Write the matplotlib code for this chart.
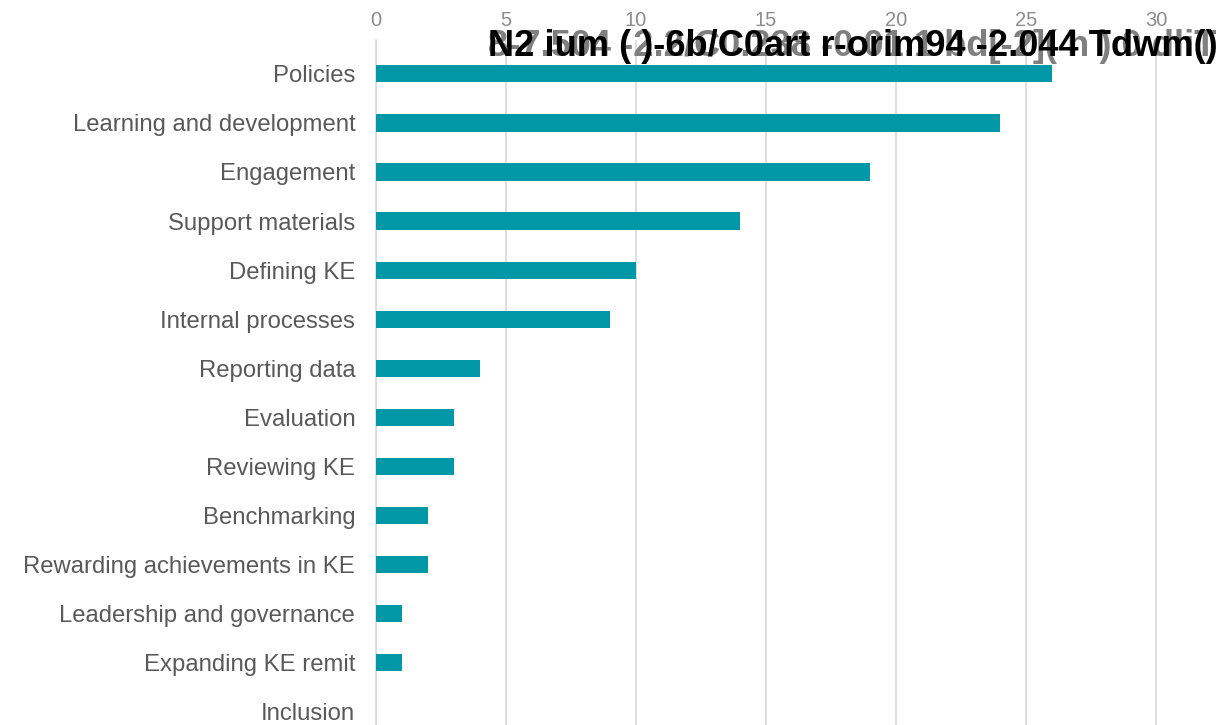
import matplotlib.pyplot as plt

plt.rcParams['font.family'] = ['Liberation Sans', 'DejaVu Sans']

categories = ['Policies', 'Learning and development', 'Engagement', 'Support materials',
              'Defining KE', 'Internal processes', 'Reporting data', 'Evaluation',
              'Reviewing KE', 'Benchmarking', 'Rewarding achievements in KE',
              'Leadership and governance', 'Expanding KE remit', 'Inclusion']
counts = [26, 24, 19, 14, 10, 9, 4, 3, 3, 2, 2, 1, 1, 0]
xticks = [0, 5, 10, 15, 20, 25, 30]

title_text = 'N2 ium ( )-6b/C0art r-orim94 -2.044 Tdwm()'
title_ghost = '8-7.504 -2.2/C0.238 -0.01.1 bd[-2]( h ) 0 dliT'

bar_color = '#0097a7'
text_color = '#595959'
grid_color = '#d9d9d9'

fig = plt.figure(figsize=(12.3, 7.25), dpi=100)
ax = fig.add_axes([376 / 1230, 0.0, 1 - 376 / 1230, (725 - 40) / 725])

ypos = list(range(len(categories)))
ax.barh(ypos, counts, height=0.35, color=bar_color, zorder=3)

ax.set_ylim(13.27, -0.69)
ax.set_xlim(0, 32.85)
ax.set_xticks(xticks)
ax.xaxis.tick_top()
ax.tick_params(axis='x', length=0, pad=7, labelsize=14.5, labelcolor='#8c8c8c')
ax.set_yticks(ypos)
ax.set_yticklabels(categories)
ax.tick_params(axis='y', length=0, pad=15, labelsize=17.2, labelcolor=text_color)

ax.grid(axis='x', color=grid_color, linewidth=1.2, zorder=0)
for side in ['top', 'right', 'bottom']:
    ax.spines[side].set_visible(False)
ax.spines['left'].set_color(grid_color)
ax.spines['left'].set_linewidth(1.2)

# overlapping title strings
fig.text(0.397, 0.936, title_ghost, fontsize=26.1, fontweight='bold', color='#7f7f7f',
         ha='left', va='center')
fig.text(0.397, 0.936, title_text, fontsize=26.1, fontweight='bold', color='black',
         ha='left', va='center')

fig.savefig('out.png', dpi=100)
